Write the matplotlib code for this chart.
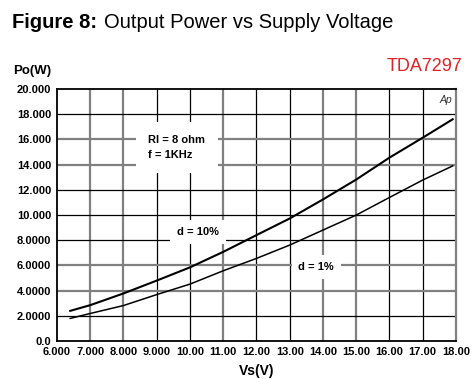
import matplotlib
matplotlib.use("Agg")
import matplotlib.pyplot as plt

plt.rcParams['font.family'] = ['Liberation Sans', 'DejaVu Sans']

# supply voltage (V) and output power (W)
vs = [6.4, 7.0, 8.0, 9.0, 10.0, 11.0, 12.0, 13.0, 14.0, 15.0, 16.0, 17.0, 17.9]
po_10 = [2.4, 2.85, 3.78, 4.8, 5.85, 7.08, 8.41, 9.73, 11.24, 12.82, 14.56, 16.14, 17.6]
po_1 = [1.8, 2.19, 2.82, 3.69, 4.52, 5.58, 6.56, 7.62, 8.81, 10.0, 11.4, 12.78, 13.9]

x_ticks = [6, 7, 8, 9, 10, 11, 12, 13, 14, 15, 16, 17, 18]
x_labels = ["6.000", "7.000", "8.000", "9.000", "10.00", "11.00", "12.00",
            "13.00", "14.00", "15.00", "16.00", "17.00", "18.00"]
y_ticks = [0, 2, 4, 6, 8, 10, 12, 14, 16, 18, 20]
y_labels = ["0.0", "2.0000", "4.0000", "6.0000", "8.0000", "10.000",
            "12.000", "14.000", "16.000", "18.000", "20.000"]
# which grid lines came out gray in the scan
x_gray = [7, 8, 11, 14, 15]
y_gray = [4, 6, 14, 16]

fig = plt.figure(figsize=(4.74, 3.79), dpi=100)
ax = fig.add_axes([0.120, 0.100, 0.842, 0.665])

for x in x_ticks[1:-1]:
    if x in x_gray:
        ax.axvline(x, color="#808080", lw=1.6, zorder=1)
    else:
        ax.axvline(x, color="black", lw=0.9, zorder=1)
for y in y_ticks[1:-1]:
    if y in y_gray:
        ax.axhline(y, color="#808080", lw=1.6, zorder=1)
    else:
        ax.axhline(y, color="black", lw=0.9, zorder=1)

ax.plot(vs, po_10, color="black", lw=1.5, zorder=3)
ax.plot(vs, po_1, color="black", lw=1.1, zorder=3)

ax.set_xlim(6, 18)
ax.set_ylim(0, 20)
ax.set_xticks(x_ticks)
ax.set_xticklabels(x_labels)
ax.set_yticks(y_ticks)
ax.set_yticklabels(y_labels)
ax.tick_params(length=0, labelsize=8, pad=4)
for lab in ax.get_xticklabels() + ax.get_yticklabels():
    lab.set_fontweight("bold")

for s in ["left", "bottom", "top"]:
    ax.spines[s].set_linewidth(1.3)
    ax.spines[s].set_color("black")
ax.spines["right"].set_color("#808080")
ax.spines["right"].set_linewidth(1.6)

box = dict(facecolor="white", edgecolor="none", pad=5)
ax.text(8.75, 15.35, "Rl = 8 ohm\nf = 1KHz", fontsize=8, fontweight="bold",
        va="center", ha="left", linespacing=1.7,
        bbox=dict(facecolor="white", edgecolor="none", pad=9), zorder=2)
ax.text(10.25, 8.65, "d = 10%", fontsize=8, fontweight="bold",
        va="center", ha="center", bbox=box, zorder=2)
ax.text(13.8, 5.85, "d = 1%", fontsize=8, fontweight="bold",
        va="center", ha="center", bbox=box, zorder=2)
ax.text(0.99, 0.975, "Ap", transform=ax.transAxes, fontsize=7.5,
        style="italic", color="#333333", ha="right", va="top")

ax.set_xlabel("Vs(V)", fontsize=10, fontweight="bold", labelpad=5)
fig.text(0.028, 0.812, "Po(W)", fontsize=9.5, fontweight="bold", ha="left", va="center")

fig.text(0.025, 0.94, "Figure 8:", fontsize=14.5, fontweight="bold", ha="left", va="center")
fig.text(0.219, 0.94, "Output Power vs Supply Voltage", fontsize=14.5, ha="left", va="center")
fig.text(0.975, 0.825, "TDA7297", fontsize=13, color="#e32124", ha="right", va="center")

fig.savefig("out.png", dpi=100)
